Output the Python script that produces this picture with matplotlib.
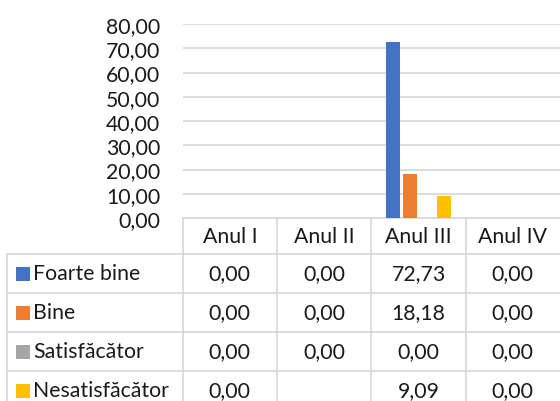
import matplotlib
matplotlib.use('Agg')
import matplotlib.pyplot as plt
from matplotlib.patches import Rectangle

plt.rcParams['font.family'] = ['Lato', 'DejaVu Sans']

years = ['Anul I', 'Anul II', 'Anul III', 'Anul IV']
series = ['Foarte bine', 'Bine', 'Satisfăcător', 'Nesatisfăcător']
foarte_bine = [0.00, 0.00, 72.73, 0.00]
bine = [0.00, 0.00, 18.18, 0.00]
satisfacator = [0.00, 0.00, 0.00, 0.00]
nesatisfacator = [0.00, None, 9.09, 0.00]
values = [foarte_bine, bine, satisfacator, nesatisfacator]
colors = ['#4472C4', '#ED7D31', '#A5A5A5', '#FFC000']
yticks = [0, 10, 20, 30, 40, 50, 60, 70, 80]

W, H = 560, 402
fig = plt.figure(figsize=(W / 100, H / 100), dpi=100)

# layout in pixels
x0, x1 = 182.7, 560
y_top, y_bot = 25, 219
grid_c = '#d9d9d9'
txt_c = '#1a1a1a'
fs = 15.3

ax = fig.add_axes([x0 / W, 1 - y_bot / H, (x1 - x0) / W, (y_bot - y_top) / H])
ax.set_xlim(-0.5, 3.5)
ax.set_ylim(0, 80)
ax.set_yticks(yticks)
ax.set_yticklabels([f'{v:.2f}'.replace('.', ',') for v in yticks],
                   fontsize=fs, color=txt_c)
ax.tick_params(axis='y', length=0, pad=16)
ax.set_xticks([])
for s in ax.spines.values():
    s.set_visible(False)
ax.grid(axis='y', color=grid_c, lw=1.3)
ax.set_axisbelow(True)

bw = 14 / 94.3
step = 17 / 94.3
for j, (vals, c) in enumerate(zip(values, colors)):
    for i, v in enumerate(vals):
        if v is None:
            continue
        ax.bar(i + (j - 1.5) * step, v, width=bw, color=c, lw=0)

# data table drawn in pixel coordinates
tab = fig.add_axes([0, 0, 1, 1], zorder=-1)
tab.set_xlim(0, W)
tab.set_ylim(H, 0)
tab.axis('off')

col_w = (x1 - x0) / 4
cols = [x0 + k * col_w for k in range(5)]
rows = [219, 255, 294, 333, 372, 411]
lx = 7
lw = 1.3

# horizontal lines
tab.plot([x0, W], [rows[0], rows[0]], color=grid_c, lw=lw)
for r in rows[1:]:
    tab.plot([lx, W], [r, r], color=grid_c, lw=lw)
# vertical lines
tab.plot([lx, lx], [rows[1], rows[-1]], color=grid_c, lw=lw)
for c in cols[:-1]:
    tab.plot([c, c], [rows[0], rows[-1]], color=grid_c, lw=lw)

hy = (rows[0] + rows[1]) / 2
for k, name in enumerate(years):
    tab.text((cols[k] + cols[k + 1]) / 2, hy, name, ha='center', va='center',
             fontsize=fs, color=txt_c)

for j, (name, vals, c) in enumerate(zip(series, values, colors)):
    cy = (rows[j + 1] + rows[j + 2]) / 2
    tab.add_patch(Rectangle((16, cy - 7), 14, 14, color=c, lw=0))
    tab.text(33, cy, name, ha='left', va='center', fontsize=fs, color=txt_c)
    for k, v in enumerate(vals):
        if v is None:
            continue
        tab.text((cols[k] + cols[k + 1]) / 2, cy, f'{v:.2f}'.replace('.', ','),
                 ha='center', va='center', fontsize=fs, color=txt_c)

fig.savefig('out.png', dpi=100)
